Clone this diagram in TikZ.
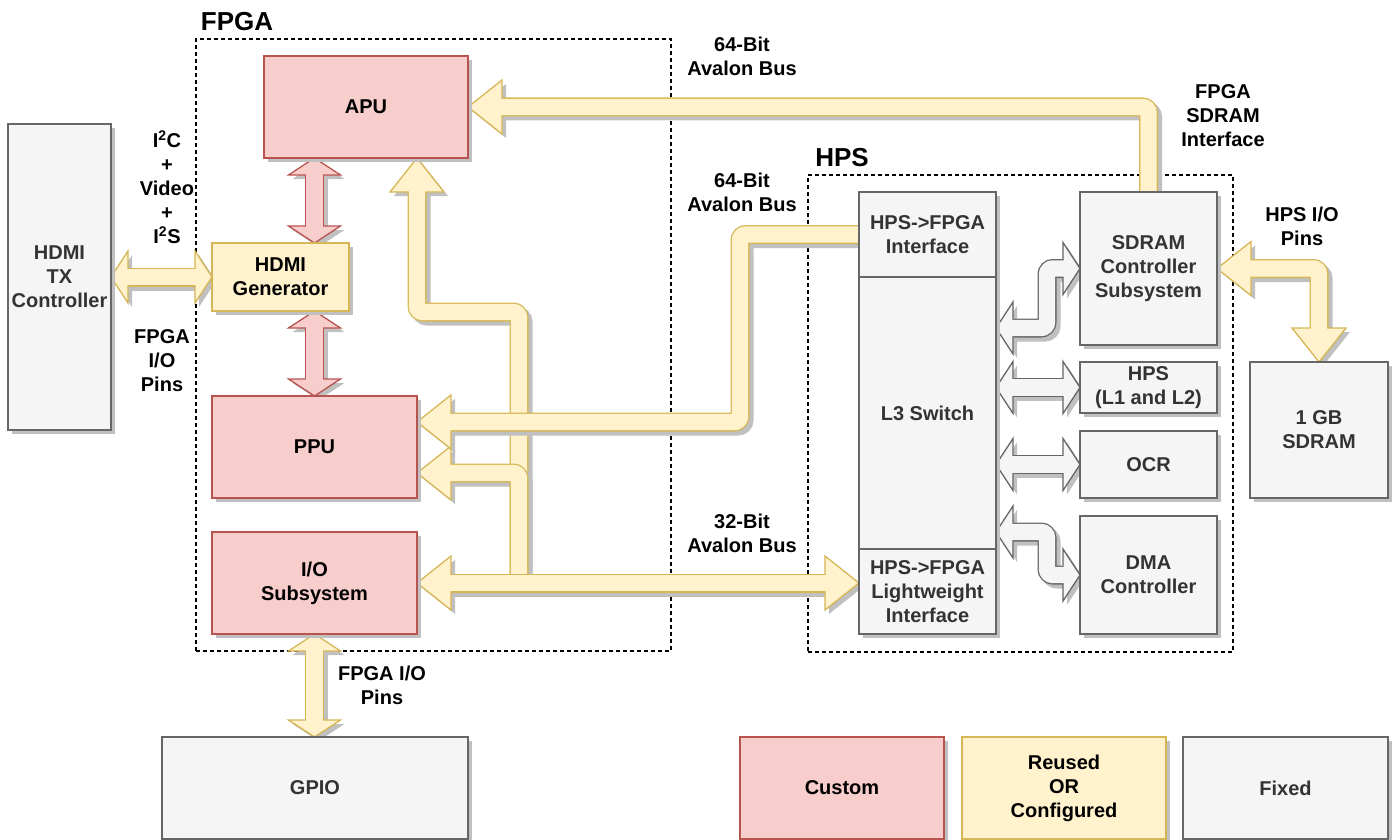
\documentclass[tikz,border=0pt]{standalone}
\usepackage{fontspec}
\setmainfont{Liberation Sans}
\usetikzlibrary{calc}

\definecolor{pinkF}{HTML}{F8CECC}
\definecolor{pinkD}{HTML}{B85450}
\definecolor{yelF}{HTML}{FFF2CC}
\definecolor{yelD}{HTML}{D6B656}
\definecolor{grayF}{HTML}{F5F5F5}
\definecolor{grayD}{HTML}{666666}
\definecolor{grayT}{HTML}{333333}
\definecolor{shadecol}{RGB}{192,192,192}

\pgfdeclarelayer{back}
\pgfdeclarelayer{arrows}
\pgfsetlayers{back,arrows,main}

\tikzset{
  txt/.style={font=\bfseries\fontsize{20}{24}\selectfont, align=center, inner sep=0pt},
  ttl/.style={font=\bfseries\fontsize{26}{30}\selectfont, inner sep=0pt, text=black},
  blk/.style={txt, line width=1.3pt, outer sep=0pt, anchor=north west},
  custom/.style={blk, fill=pinkF, draw=pinkD, text=black},
  reused/.style={blk, fill=yelF, draw=yelD, text=black},
  fixed/.style={blk, fill=grayF, draw=grayD, text=grayT},
  lbl/.style={txt, text=black},
  container/.style={draw=black, line width=1.3pt, dash pattern=on 4pt off 3pt,
    inner sep=0pt, outer sep=0pt, anchor=north west},
}

% block with drop shadow: name, style, x1, y1, x2, y2, text
\newcommand\blockbox[7]{%
  \fill[shadecol] (#3+4,#4+4) rectangle (#5+4,#6+4);
  \node[#2, minimum width=#5pt-#3pt, minimum height=#6pt-#4pt] (#1) at (#3,#4) {#7};
}

% wide block arrow with drop shadow: fill, border, shaft path, head outlines
\newcommand\flexarrow[4]{%
  \begin{pgfonlayer}{arrows}
    \begin{scope}[transform canvas={xshift=4pt,yshift=-4pt}]
      \draw[line width=19pt, draw=shadecol, rounded corners=6pt] #3;
      \fill[shadecol] #4;
    \end{scope}
    \draw[line width=19pt, draw=#2, rounded corners=6pt] #3;
    \filldraw[fill=#1, draw=#2, line width=1.3pt] #4;
    \draw[line width=16.4pt, draw=#1, rounded corners=6pt] #3;
  \end{pgfonlayer}
}

\begin{document}
\begin{tikzpicture}[x=1pt, y=-1pt]
\useasboundingbox (0,0) rectangle (1395,840);

% region frames
\begin{pgfonlayer}{back}
  \node[container, minimum width=475pt, minimum height=612pt] (fpga) at (196,39) {};
  \node[container, minimum width=425pt, minimum height=477pt] (hps) at (808,175) {};
\end{pgfonlayer}
\node[ttl] (tfpga) at (237,22) {FPGA};
\node[ttl] (thps) at (842,158) {HPS};

% blocks
\blockbox{tx}{fixed}{8}{124}{111}{430}{HDMI\\TX\\Controller}
\blockbox{apu}{custom}{264}{56}{468}{158}{APU}
\blockbox{gen}{reused}{212}{243}{349}{311}{HDMI\\Generator}
\blockbox{ppu}{custom}{212}{396}{417}{498}{PPU}
\blockbox{io}{custom}{212}{532}{417}{634}{I/O\\Subsystem}
\blockbox{gpio}{fixed}{162}{737}{468}{839}{GPIO}
\blockbox{iface}{fixed}{859}{192}{996}{277}{HPS->FPGA\\Interface}
\blockbox{l3}{fixed}{859}{277}{996}{549}{L3 Switch}
\blockbox{lw}{fixed}{859}{549}{996}{634}{HPS->FPGA\\Lightweight\\Interface}
\blockbox{sdc}{fixed}{1080}{192}{1217}{345}{SDRAM\\Controller\\Subsystem}
\blockbox{l12}{fixed}{1080}{362}{1217}{413}{HPS\\(L1 and L2)}
\blockbox{ocr}{fixed}{1080}{431}{1217}{498}{OCR}
\blockbox{dma}{fixed, line width=2.6pt}{1080}{516}{1217}{634}{DMA\\Controller}
\blockbox{sdram}{fixed}{1250}{362}{1388}{498}{1 GB\\SDRAM}

% legend
\blockbox{lgc}{custom}{740}{737}{944}{839}{Custom}
\blockbox{lgr}{reused}{962}{737}{1166}{839}{Reused\\OR\\Configured}
\blockbox{lgf}{fixed}{1183}{737}{1388}{839}{Fixed}

% connector labels
\node[lbl] (t64a) at (742,56) {64-Bit\\Avalon Bus};
\node[lbl] (tsdi) at (1223,116) {FPGA\\SDRAM\\Interface};
\node[lbl] (t64b) at (742,192) {64-Bit\\Avalon Bus};
\node[lbl] (thio) at (1302,226) {HPS I/O\\Pins};
\node[lbl] (t32) at (742,533) {32-Bit\\Avalon Bus};
\node[lbl] (tvid) at (167,187) {I\textsuperscript{2}C\\+\\Video\\+\\I\textsuperscript{2}S};
\node[lbl] (tfio) at (162,361) {FPGA\\I/O\\Pins};
\node[lbl] (tgio) at (382,685) {FPGA I/O\\Pins};

% routing points
\coordinate (a1) at (ppu.center |- apu.south);
\coordinate (a2) at (ppu.center |- gen.north);
\coordinate (b1) at (ppu.center |- gen.south);
\coordinate (d1) at (io.center |- gpio.north);
\coordinate (s1) at (sdram.north |- sdc.east);
\coordinate (u1) at (sdc.north |- apu.east);
\coordinate (c1) at ($(iface.west)+(-119,0)$);
\coordinate (p1) at ($(ppu.east)+(0,-25)$);
\coordinate (c2) at (c1 |- p1);
\coordinate (r0) at ($(io.east)+(102,0)$);
\coordinate (p0) at (ppu.east |- apu.south);
\coordinate (r1) at ($(r0)+(0,-271)$);
\coordinate (r2) at (p0 |- r1);
\coordinate (p2) at ($(ppu.east)+(0,26)$);
\coordinate (r3) at (r0 |- p2);
\coordinate (p3) at (lw.west |- io.east);
\coordinate (g1) at ($(l3.north east)+(0,51)$);
\coordinate (g2) at ($(g1)+(51,0)$);
\coordinate (g3) at (g2 |- sdc.west);
\coordinate (g4) at ($(l3.south east)+(0,-17)$);
\coordinate (g5) at ($(g4)+(51,0)$);
\coordinate (g6) at (g5 |- dma.west);
\coordinate (h1) at (l3.east |- l12.west);
\coordinate (h2) at (l3.east |- ocr.west);

% HDMI TX controller <-> HDMI generator
\flexarrow{yelF}{yelD}
  {($(tx.east)+(15,0)$) -- ($(gen.west)+(-15,0)$)}
  {(tx.east) -- ++(17,-26) -- ++(0,52) -- cycle
   (gen.west) -- ++(-17,-26) -- ++(0,52) -- cycle}

% APU <-> HDMI generator
\flexarrow{pinkF}{pinkD}
  {($(a1)+(0,15)$) -- ($(a2)+(0,-15)$)}
  {(a1) -- ++(-26,17) -- ++(52,0) -- cycle
   (a2) -- ++(-26,-17) -- ++(52,0) -- cycle}

% HDMI generator <-> PPU
\flexarrow{pinkF}{pinkD}
  {($(b1)+(0,15)$) -- ($(ppu.north)+(0,-15)$)}
  {(b1) -- ++(-26,17) -- ++(52,0) -- cycle
   (ppu.north) -- ++(-26,-17) -- ++(52,0) -- cycle}

% I/O subsystem <-> GPIO
\flexarrow{yelF}{yelD}
  {($(io.south)+(0,15)$) -- ($(d1)+(0,-15)$)}
  {(io.south) -- ++(-26,17) -- ++(52,0) -- cycle
   (d1) -- ++(-26,-17) -- ++(52,0) -- cycle}

% SDRAM controller <-> 1 GB SDRAM
\flexarrow{yelF}{yelD}
  {($(sdc.east)+(32,0)$) -- (s1) -- ($(sdram.north)+(0,-32)$)}
  {(sdc.east) -- ++(34,-27) -- ++(0,54) -- cycle
   (sdram.north) -- ++(-27,-34) -- ++(54,0) -- cycle}

% FPGA SDRAM interface -> APU
\flexarrow{yelF}{yelD}
  {($(sdc.north)+(0,2)$) -- (u1) -- ($(apu.east)+(32,0)$)}
  {(apu.east) -- ++(34,-27) -- ++(0,54) -- cycle}

% lightweight bus -> APU
\flexarrow{yelF}{yelD}
  {(r0) -- (r1) -- (r2) -- ($(p0)+(0,32)$)}
  {(p0) -- ++(-27,34) -- ++(54,0) -- cycle}

% lightweight bus -> PPU
\flexarrow{yelF}{yelD}
  {(r0) -- (r3) -- ($(p2)+(32,0)$)}
  {(p2) -- ++(34,-27) -- ++(0,54) -- cycle}

% HPS->FPGA interface -> PPU
\flexarrow{yelF}{yelD}
  {($(iface.west)+(2,0)$) -- (c1) -- (c2) -- ($(p1)+(32,0)$)}
  {(p1) -- ++(34,-27) -- ++(0,54) -- cycle}

% I/O subsystem <-> lightweight interface
\flexarrow{yelF}{yelD}
  {($(io.east)+(32,0)$) -- ($(p3)+(-32,0)$)}
  {(io.east) -- ++(34,-27) -- ++(0,54) -- cycle
   (p3) -- ++(-34,-27) -- ++(0,54) -- cycle}

% L3 switch <-> SDRAM controller
\flexarrow{grayF}{grayD}
  {($(g1)+(15,0)$) -- (g2) -- (g3) -- ($(sdc.west)+(-15,0)$)}
  {(g1) -- ++(17,-26) -- ++(0,52) -- cycle
   (sdc.west) -- ++(-17,-26) -- ++(0,52) -- cycle}

% L3 switch <-> HPS (L1 and L2)
\flexarrow{grayF}{grayD}
  {($(h1)+(15,0)$) -- ($(l12.west)+(-15,0)$)}
  {(h1) -- ++(17,-26) -- ++(0,52) -- cycle
   (l12.west) -- ++(-17,-26) -- ++(0,52) -- cycle}

% L3 switch <-> OCR
\flexarrow{grayF}{grayD}
  {($(h2)+(15,0)$) -- ($(ocr.west)+(-15,0)$)}
  {(h2) -- ++(17,-26) -- ++(0,52) -- cycle
   (ocr.west) -- ++(-17,-26) -- ++(0,52) -- cycle}

% L3 switch <-> DMA controller
\flexarrow{grayF}{grayD}
  {($(g4)+(15,0)$) -- (g5) -- (g6) -- ($(dma.west)+(-15,0)$)}
  {(g4) -- ++(17,-26) -- ++(0,52) -- cycle
   (dma.west) -- ++(-17,-26) -- ++(0,52) -- cycle}

\end{tikzpicture}
\end{document}
